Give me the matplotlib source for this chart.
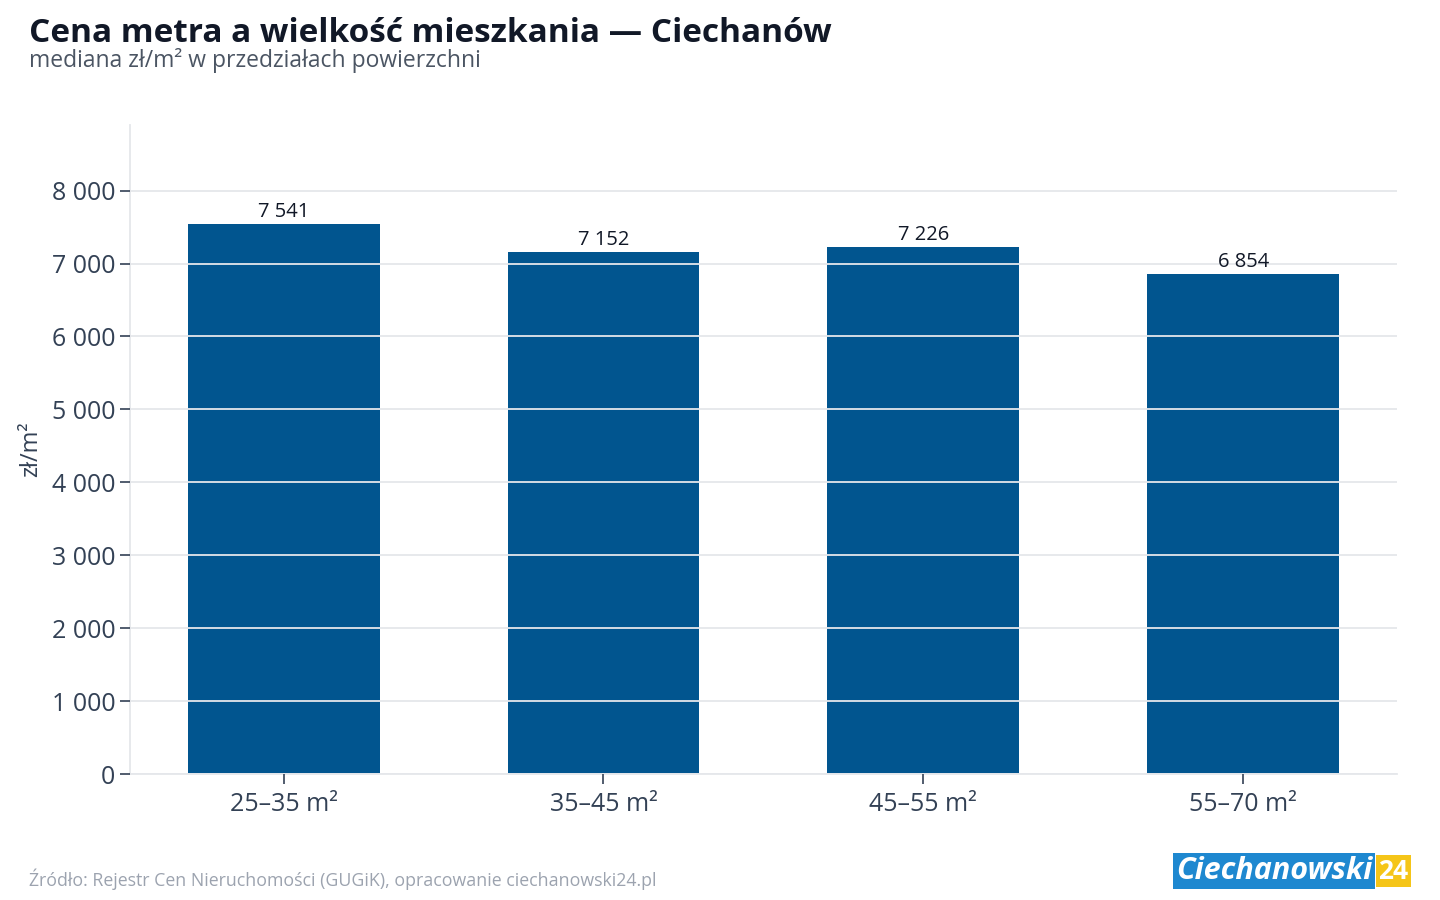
import matplotlib.pyplot as plt
from matplotlib.ticker import FuncFormatter

plt.rcParams['font.family'] = ['Open Sans', 'DejaVu Sans']

# dane
przedzialy = ['25–35 m²', '35–45 m²', '45–55 m²', '55–70 m²']
mediana = [7541, 7152, 7226, 6854]

bar_color = '#01558f'
text_dark = '#334155'
grid_color = '#e5e7eb'


def fmt_pl(v, pos=None):
    return f'{int(round(v)):,}'.replace(',', ' ')


fig = plt.figure(figsize=(14.4, 9), dpi=100)
ax = fig.add_axes([0.0903, 0.14, 0.8797, 0.721])

x = range(len(przedzialy))
bars = ax.bar(x, mediana, width=0.6, color=bar_color, zorder=1)

for rect, val in zip(bars, mediana):
    ax.text(rect.get_x() + rect.get_width() / 2, val + 30, fmt_pl(val),
            ha='center', va='bottom', fontsize=14.5, color='#111827')

ax.set_xlim(-0.48, 3.48)
ax.set_ylim(0, max(mediana) * 1.18)
ax.set_yticks(range(0, 8001, 1000))
ax.yaxis.set_major_formatter(FuncFormatter(fmt_pl))
ax.set_xticks(list(x))
ax.set_xticklabels(przedzialy)

ax.grid(axis='y', color=grid_color, linewidth=1.3, zorder=2)
ax.set_axisbelow(False)

for s in ['top', 'right']:
    ax.spines[s].set_visible(False)
for s in ['left', 'bottom']:
    ax.spines[s].set_color(grid_color)
    ax.spines[s].set_linewidth(1.3)

ax.tick_params(axis='both', colors=text_dark, labelsize=18, length=7, width=1.2)
ax.tick_params(axis='x', pad=6)
ax.set_ylabel('zł/m²', fontsize=17, color=text_dark, labelpad=6)

fig.text(0.02, 0.963, 'Cena metra a wielkość mieszkania — Ciechanów',
         fontsize=24, fontweight='bold', color='#111827', va='center')
fig.text(0.02, 0.933, 'mediana zł/m² w przedziałach powierzchni',
         fontsize=16.5, color='#4b5563', va='center')
fig.text(0.02, 0.023, 'Źródło: Rejestr Cen Nieruchomości (GUGiK), opracowanie ciechanowski24.pl',
         fontsize=12.8, color='#9ca3af', va='center')

# logo
fig.text(0.953, 0.032, 'Ciechanowski', fontsize=22, fontweight='bold', style='italic',
         color='white', ha='right', va='center',
         bbox=dict(boxstyle='square,pad=0.1', fc='#1e88d0', ec='none'))
fig.text(0.978, 0.032, '24', fontsize=19, fontweight='bold',
         color='white', ha='right', va='center',
         bbox=dict(boxstyle='square,pad=0.1', fc='#f5c518', ec='none'))

fig.savefig('out.png', dpi=100)
